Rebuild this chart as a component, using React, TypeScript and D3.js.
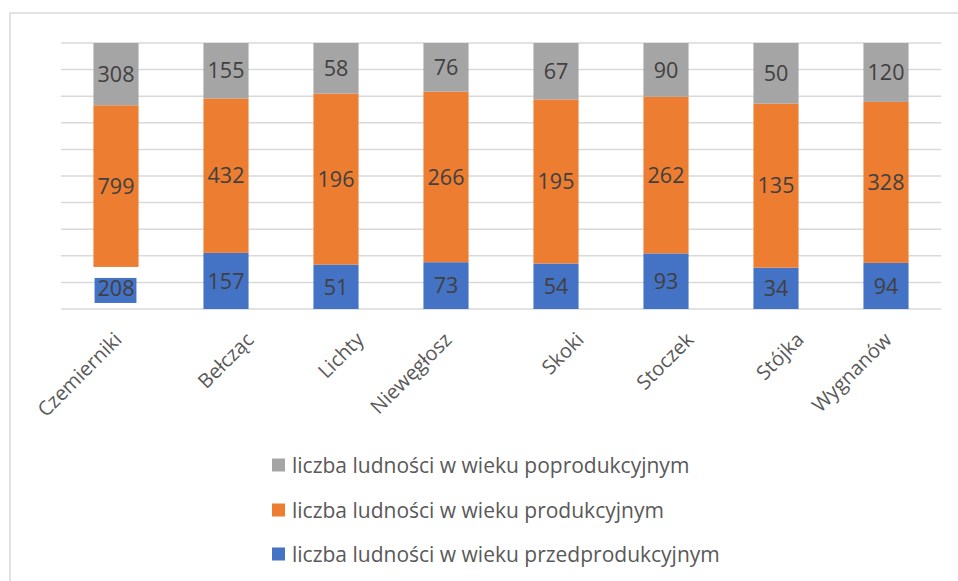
import React from "react";
import * as d3 from "d3";

const categories = ["Czemierniki", "Bełcząc", "Lichty", "Niewęgłosz", "Skoki", "Stoczek", "Stójka", "Wygnanów"];
const przedprodukcyjny = [208, 157, 51, 73, 54, 93, 34, 94];
const produkcyjny = [799, 432, 196, 266, 195, 262, 135, 328];
const poprodukcyjny = [308, 155, 58, 76, 67, 90, 50, 120];
const seriesNames = [
  "liczba ludności w wieku przedprodukcyjnym",
  "liczba ludności w wieku produkcyjnym",
  "liczba ludności w wieku poprodukcyjnym",
];
const seriesColors = ["#4472C4", "#ED7D31", "#A5A5A5"];
// categories whose first segment is drawn only as a filled label box
const labelBoxOnly = ["Czemierniki"];
const yTicks = [0, 0.1, 0.2, 0.3, 0.4, 0.5, 0.6, 0.7, 0.8, 0.9, 1];

const W = 958;
const H = 581;
const plot = { left: 61, right: 941, top: 43, bottom: 309 };
const FONT = "'Open Sans', 'DejaVu Sans', sans-serif";

export default function App() {
  const series = [przedprodukcyjny, produkcyjny, poprodukcyjny];
  const rows = categories.map((c, i) => {
    const r: any = { cat: c };
    series.forEach((s, k) => (r["s" + k] = s[i]));
    return r;
  });
  const stack = d3.stack<any>().keys(["s0", "s1", "s2"]).offset(d3.stackOffsetExpand);
  const stacked = stack(rows);

  const x = d3.scaleBand<string>().domain(categories).range([plot.left, plot.right]).paddingInner(0.59).paddingOuter(0.295);
  const y = d3.scaleLinear().domain([0, 1]).range([plot.bottom, plot.top]);

  const legendOrder = [2, 1, 0];
  const legendY = [465, 510, 554];

  return (
    <svg width={W} height={H} style={{ position: "absolute", left: 0, top: 0, background: "#fff" }}>
      <rect x={10} y={13} width={W + 20} height={H + 20} fill="#fff" stroke="#D9D9D9" strokeWidth={1.5} />
      {yTicks.map((t) => (
        <line key={t} x1={plot.left} x2={plot.right} y1={y(t)} y2={y(t)} stroke="#D9D9D9" strokeWidth={1.5} />
      ))}
      {stacked.map((layer, k) =>
        layer.map((d, i) => {
          const cat = categories[i];
          const x0 = x(cat)!;
          const bw = x.bandwidth();
          const y0 = y(d[1]);
          const y1 = y(d[0]);
          const cx = x0 + bw / 2;
          const cy = (y0 + y1) / 2;
          const val = series[k][i];
          const boxOnly = k === 0 && labelBoxOnly.includes(cat);
          const txtW = String(val).length * 12.3;
          return (
            <g key={k + "-" + i}>
              {!boxOnly && <rect x={x0} y={y0} width={bw} height={y1 - y0} fill={seriesColors[k]} />}
              {boxOnly && <rect x={cx - txtW / 2 - 3} y={cy - 10} width={txtW + 5} height={25} fill={seriesColors[k]} />}
              <text x={cx} y={cy} dy="0.36em" textAnchor="middle" fontFamily={FONT} fontSize={21.5} fill="#404040">
                {val}
              </text>
            </g>
          );
        })
      )}
      {categories.map((c) => {
        const shift = c.length >= 8 ? 7 : 29;
        const cx = x(c)! + x.bandwidth() / 2 + shift;
        const cy = 341;
        return (
          <text key={c} x={cx} y={cy} textAnchor="end" fontFamily={FONT} fontSize={20} fill="#595959" transform={`rotate(-45 ${cx} ${cy})`}>
            {c}
          </text>
        );
      })}
      {legendOrder.map((k, j) => (
        <g key={k}>
          <rect x={272} y={legendY[j] - 6.5} width={13} height={13} fill={seriesColors[k]} />
          <text x={292} y={legendY[j]} dy="0.36em" fontFamily={FONT} fontSize={21} fill="#595959">
            {seriesNames[k]}
          </text>
        </g>
      ))}
    </svg>
  );
}
